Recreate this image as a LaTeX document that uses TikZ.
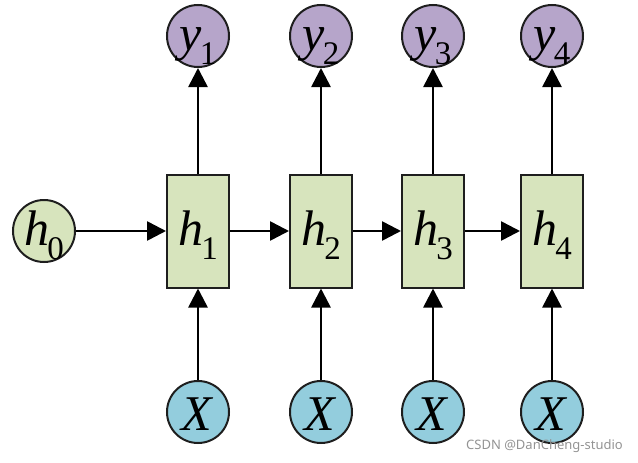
\documentclass[tikz,border=0pt]{standalone}
\usepackage{fontspec}
\setmainfont{Liberation Serif}
\newfontfamily\wmfont{Noto Sans}
\newfontfamily\lblfont{Liberation Serif}
\usetikzlibrary{arrows.meta}
\definecolor{boxgreen}{HTML}{D7E4BD}
\definecolor{ypurple}{HTML}{B6A5CA}
\definecolor{xblue}{HTML}{93CDDD}
\definecolor{edgegray}{HTML}{1E1E1E}
\newcommand{\lbl}[2]{\lblfont\fontsize{50}{54}\selectfont\textit{#1}\kern-2pt\raisebox{-14pt}{\lblfont\upshape\fontsize{33}{33}\selectfont #2}}
\tikzset{
  cell/.style={draw=edgegray, line width=2pt, fill=boxgreen, minimum width=62pt, minimum height=113pt, inner sep=0pt, text height=34pt, text depth=6pt},
  circ/.style={draw=edgegray, line width=2pt, circle, minimum size=62pt, inner sep=0pt, text height=34pt, text depth=6pt},
  hin/.style={circ, fill=boxgreen},
  yout/.style={circ, fill=ypurple},
  xin/.style={circ, fill=xblue, text height=36pt, text depth=0pt},
  arr/.style={line width=2.6pt, black, -{Triangle[length=19pt,width=19pt]}},
  wm/.style={text=gray!85, font=\wmfont\fontsize{13}{15}\selectfont, inner sep=0pt}
}
\begin{document}
\begin{tikzpicture}[x=1pt,y=-1pt]
\useasboundingbox (0,0) rectangle (638,463);
\node[hin] (h0) at (44,231) {\lbl{h}{0}};
\node[cell] (h1) at (198,231) {\lbl{h}{1}};
\node[cell] (h2) at (321,231) {\lbl{h}{2}};
\node[cell] (h3) at (433,231) {\lbl{h}{3}};
\node[cell] (h4) at (552,231) {\lbl{h}{4}};
\node[yout] (y1) at (198,36) {\lbl{y}{1}};
\node[yout] (y2) at (321,36) {\lbl{y}{2}};
\node[yout] (y3) at (433,36) {\lbl{y}{3}};
\node[yout] (y4) at (552,36) {\lbl{y}{4}};
\node[xin] (x1) at (198,412) {\lblfont\fontsize{50}{54}\selectfont\textit{X}};
\node[xin] (x2) at (321,412) {\lblfont\fontsize{50}{54}\selectfont\textit{X}};
\node[xin] (x3) at (433,412) {\lblfont\fontsize{50}{54}\selectfont\textit{X}};
\node[xin] (x4) at (552,412) {\lblfont\fontsize{50}{54}\selectfont\textit{X}};
\draw[arr] (h0.east) -- (h1.west);
\draw[arr] (h1.east) -- (h2.west);
\draw[arr] (h2.east) -- (h3.west);
\draw[arr] (h3.east) -- (h4.west);
\foreach \i in {1,2,3,4}{
  \draw[arr] (x\i.north) -- (h\i.south);
  \draw[arr] (h\i.north) -- (y\i.south);
}
\node[wm, anchor=base west] (wm) at (466,449) {CSDN @DanCheng-studio};
\end{tikzpicture}
\end{document}
